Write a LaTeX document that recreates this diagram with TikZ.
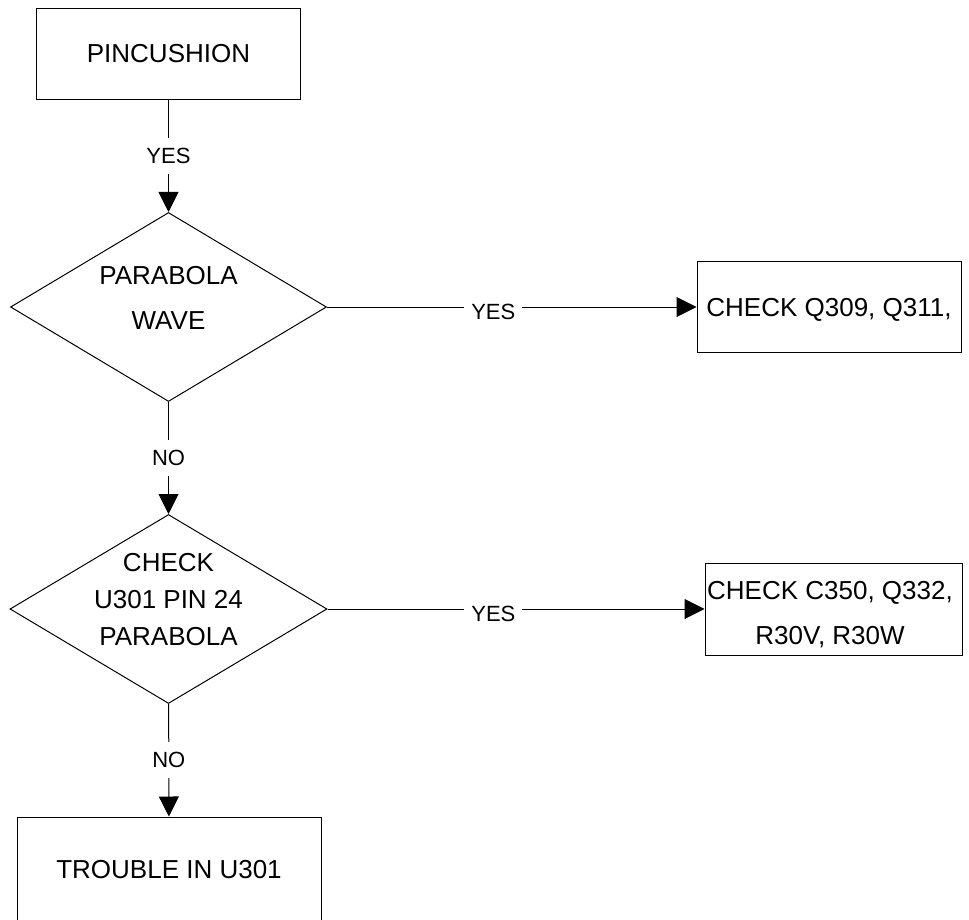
\documentclass[tikz,border=0pt]{standalone}
\usepackage{fontspec}
\setmainfont{Liberation Sans}
\usetikzlibrary{shapes.geometric,arrows.meta}

\begin{document}
\begin{tikzpicture}[
    x=1pt, y=-1pt,
    line width=1pt,
    box/.style={draw, rectangle, inner sep=0pt, align=center,
      font=\fontsize{26}{45}\selectfont},
    decision/.style={draw, diamond, inner sep=0pt,
      minimum width=316pt, minimum height=189pt},
    dtext/.style={align=center, inner sep=0pt},
    lbl/.style={fill=white, inner xsep=7pt, inner ysep=10pt,
      font=\fontsize{22}{26}\selectfont},
    arr/.style={-{Triangle[length=20pt,width=20pt]}}
  ]
  \useasboundingbox (0,0) rectangle (969,920);
  % left column
  \node[box, minimum width=264pt, minimum height=91pt] (pin) at (168.5,54) {PINCUSHION};
  \node[decision] (d1) at (168.5,307) {};
  \node[dtext, font=\fontsize{26}{45}\selectfont] (d1text) at (168.5,297.5) {PARABOLA\\WAVE};
  \node[decision, minimum width=317pt] (d2) at (168.5,609) {};
  \node[dtext, font=\fontsize{26}{37}\selectfont] (d2text) at (168.5,600) {CHECK\\U301 PIN 24\\PARABOLA};
  \node[box, minimum width=304pt, minimum height=106pt] (u301) at (169,870) {TROUBLE IN U301};
  % right column
  \node[box, text depth=0pt, minimum width=264pt, minimum height=91pt] (q309) at (829,307) {CHECK Q309, Q311,};
  \node[box, minimum width=257pt, minimum height=92pt] (c350) at (833.5,609) {};
  \node[dtext, font=\fontsize{26}{45}\selectfont] (c350text) at (830,614.5) {CHECK C350, Q332,\\R30V, R30W};
  % connectors
  \draw[arr] (pin) -- node[lbl] {YES} (d1);
  \draw[arr] (d1) -- node[lbl, pos=0.45, yshift=-5pt] {YES} (q309);
  \draw[arr] (d1) -- node[lbl] {NO} (d2);
  \draw[arr] (d2) -- node[lbl, pos=0.44, yshift=-5pt] {YES} (c350);
  \draw[arr] (d2) -- node[lbl] {NO} (u301);
\end{tikzpicture}
\end{document}
